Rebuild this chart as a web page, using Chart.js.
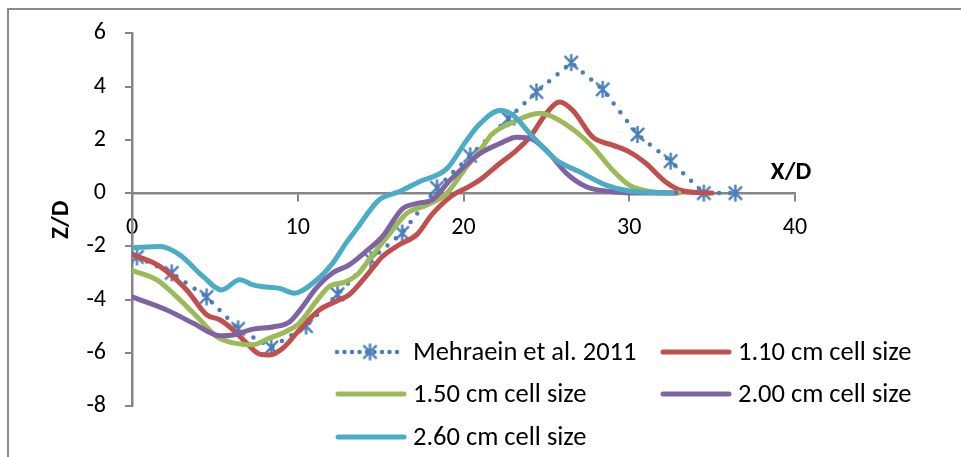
<!DOCTYPE html>
<html>
<head>
<meta charset="utf-8">
<title>Scour profile Z/D vs X/D</title>
<script src="https://cdn.jsdelivr.net/npm/chart.js@4.4.1/dist/chart.umd.min.js"></script>
<style>
  html, body { margin: 0; padding: 0; background: #fff; }
  #wrap { position: relative; width: 961px; height: 457px; overflow: hidden; }
  #frame { position: absolute; left: 7px; top: 8px; width: 1000px; height: 500px; border: 2px solid #8a8a8a; box-sizing: border-box; }
  #profileChart { position: absolute; left: 0; top: 0; }
</style>
</head>
<body>
<div id="wrap">
  <div id="frame"></div>
  <canvas id="profileChart" width="961" height="457"></canvas>
</div>
<script>
// measured bed profile (Mehraein et al. 2011)
const mehraeinX = [0.3, 2.4, 4.5, 6.4, 8.4, 10.5, 12.4, 14.4, 16.3, 18.4, 20.4, 22.7, 24.4, 26.5, 28.4, 30.5, 32.5, 34.5, 36.4];
const mehraeinZ = [-2.4, -3.0, -3.9, -5.1, -5.8, -5.0, -3.8, -2.5, -1.5, 0.2, 1.4, 2.8, 3.8, 4.9, 3.9, 2.2, 1.2, 0, 0];

// simulated profiles, one pair per mesh size
const cell110X = [0, 1.7, 3.3, 4.5, 5.3, 6.1, 6.9, 7.7, 8.3, 9.1, 10.1, 11.3, 12.3, 13.1, 14.1, 15.1, 16.1, 17.2, 18.1, 19.3, 20.2, 21.0, 22.2, 23.0, 24.0, 25.0, 25.8, 26.6, 27.8, 29.0, 30.0, 31.0, 32.2, 33.2, 35.0];
const cell110Z = [-2.3, -2.76, -3.64, -4.57, -4.76, -5.14, -5.63, -6.05, -6.08, -5.83, -5.14, -4.39, -4.07, -3.82, -3.14, -2.39, -1.95, -1.55, -0.8, -0.1, 0.2, 0.5, 1.12, 1.5, 2.1, 3.0, 3.42, 3.1, 2.1, 1.8, 1.55, 1.12, 0.42, 0.09, 0];

const cell150X = [0, 1.5, 2.7, 4.1, 5.1, 6.1, 7.3, 8.1, 9.3, 10.1, 11.1, 11.9, 12.9, 13.7, 14.3, 15.4, 16.6, 17.8, 19.0, 20.2, 21.0, 21.7, 23.0, 24.6, 25.4, 26.8, 27.8, 29.0, 30.0, 31.4, 33.0];
const cell150Z = [-2.9, -3.26, -3.9, -4.76, -5.39, -5.63, -5.7, -5.5, -5.2, -4.89, -4.08, -3.51, -3.33, -3.0, -2.5, -1.64, -0.75, -0.45, 0, 1.0, 1.6, 2.2, 2.67, 3.0, 2.86, 2.3, 1.73, 0.86, 0.3, 0.05, 0];

const cell200X = [0, 2.1, 3.7, 5.3, 6.1, 7.3, 8.5, 9.5, 10.3, 11.1, 12.1, 13.1, 14.1, 15.1, 16.3, 17.2, 18.1, 19.2, 21.0, 22.2, 23.2, 24.0, 25.0, 26.2, 27.4, 29.0, 30.7, 32.8];
const cell200Z = [-3.9, -4.39, -4.89, -5.36, -5.33, -5.11, -5.03, -4.84, -4.26, -3.58, -3.0, -2.7, -2.2, -1.64, -0.6, -0.39, -0.26, 0.49, 1.49, 1.86, 2.1, 2.06, 1.61, 0.75, 0.24, 0.05, 0, 0];

const cell260X = [0, 1.7, 2.9, 4.3, 5.4, 6.5, 7.3, 8.1, 8.9, 9.8, 10.9, 12.1, 12.9, 13.5, 14.9, 16.1, 17.3, 19.0, 20.2, 21.0, 22.2, 23.0, 24.0, 25.6, 27.0, 28.6, 30.0, 32.6];
const cell260Z = [-2.06, -2.01, -2.33, -3.14, -3.64, -3.26, -3.45, -3.53, -3.58, -3.76, -3.39, -2.64, -1.89, -1.39, -0.26, 0.05, 0.42, 0.92, 1.99, 2.61, 3.1, 2.92, 2.24, 1.24, 0.8, 0.3, 0.08, 0];

const seriesLabels = ["Mehraein et al. 2011", "1.10 cm cell size", "1.50 cm cell size", "2.00 cm cell size", "2.60 cm cell size"];
const xTicks = [0, 10, 20, 30, 40];
const yTicks = [-8, -6, -4, -2, 0, 2, 4, 6];

const FONT = "Carlito, Lato, sans-serif";
const AXIS_GREY = "#868686";

function toPoints(xs, zs) {
  return xs.map((x, i) => ({ x, y: zs[i] }));
}

// six-armed star marker, like the office "star" marker
function makeAsterisk(color, size) {
  const c = document.createElement("canvas");
  c.width = size;
  c.height = size;
  const g = c.getContext("2d");
  const m = size / 2;
  const r = size / 2 - 1;
  const d = r * 0.78;
  g.strokeStyle = color;
  g.lineWidth = 2.4;
  g.beginPath();
  g.moveTo(m, m - r);
  g.lineTo(m, m + r);
  g.moveTo(m - d, m - d);
  g.lineTo(m + d, m + d);
  g.moveTo(m + d, m - d);
  g.lineTo(m - d, m + d);
  g.stroke();
  return c;
}

const starMarker = makeAsterisk("#4a7ebb", 19);

function smoothLine(label, xs, zs, color, order) {
  return {
    label,
    data: toPoints(xs, zs),
    borderColor: color,
    backgroundColor: color,
    borderWidth: 5,
    borderCapStyle: "round",
    borderJoinStyle: "round",
    cubicInterpolationMode: "monotone",
    pointRadius: 0,
    fill: false,
    order,
  };
}

// legend sits inside the plot, two columns
const legendSlots = [[335, 352], [660, 352], [335, 394], [660, 394], [335, 437]];

const cornerLegend = {
  id: "cornerLegend",
  afterDraw(chart) {
    const ctx = chart.ctx;
    chart.data.datasets.forEach((ds, i) => {
      const [x, y] = legendSlots[i];
      ctx.save();
      ctx.strokeStyle = ds.borderColor;
      ctx.lineCap = "round";
      if (ds.borderDash) {
        ctx.lineWidth = 4.5;
        ctx.setLineDash([0, 7.5]);
        ctx.beginPath();
        ctx.moveTo(x + 2, y);
        ctx.lineTo(x + 66, y);
        ctx.stroke();
        ctx.setLineDash([]);
        ctx.drawImage(starMarker, x + 35 - starMarker.width / 2, y - starMarker.height / 2);
      } else {
        ctx.lineWidth = 5;
        ctx.beginPath();
        ctx.moveTo(x + 3, y);
        ctx.lineTo(x + 69, y);
        ctx.stroke();
      }
      ctx.fillStyle = "#000";
      ctx.font = "26.5px " + FONT;
      ctx.textBaseline = "middle";
      ctx.textAlign = "left";
      ctx.fillText(ds.label, x + 78, y + 1);
      ctx.restore();
    });
  },
};

const axisTitles = {
  id: "axisTitles",
  afterDraw(chart) {
    const ctx = chart.ctx;
    const xs = chart.scales.x;
    const ys = chart.scales.y;
    ctx.save();
    ctx.fillStyle = "#000";
    ctx.font = "bold 25px " + FONT;
    ctx.textAlign = "center";
    ctx.textBaseline = "middle";
    ctx.fillText("X/D", xs.getPixelForValue(40) - 4, ys.getPixelForValue(0) - 20);
    ctx.translate(62, ys.getPixelForValue(-1));
    ctx.rotate(-Math.PI / 2);
    ctx.fillText("Z/D", 0, 0);
    ctx.restore();
  },
};

new Chart(document.getElementById("profileChart"), {
  type: "line",
  data: {
    datasets: [
      {
        label: seriesLabels[0],
        data: toPoints(mehraeinX, mehraeinZ),
        borderColor: "#4a7ebb",
        backgroundColor: "#4a7ebb",
        borderWidth: 4.5,
        borderDash: [0, 11],
        borderCapStyle: "round",
        tension: 0,
        pointStyle: starMarker,
        pointRadius: 9,
        fill: false,
        order: 5,
      },
      smoothLine(seriesLabels[1], cell110X, cell110Z, "#c0504d", 4),
      smoothLine(seriesLabels[2], cell150X, cell150Z, "#9bbb59", 3),
      smoothLine(seriesLabels[3], cell200X, cell200Z, "#8064a2", 2),
      smoothLine(seriesLabels[4], cell260X, cell260Z, "#4bacc6", 1),
    ],
  },
  options: {
    responsive: false,
    animation: false,
    layout: { padding: { left: 62, top: 33, right: 166, bottom: 51 } },
    plugins: {
      legend: { display: false },
      tooltip: { enabled: false },
    },
    scales: {
      x: {
        type: "linear",
        position: { y: 0 },
        min: 0,
        max: 40,
        afterBuildTicks: (scale) => { scale.ticks = xTicks.map((v) => ({ value: v })); },
        ticks: { color: "#000", font: { family: FONT, size: 24 }, padding: 14, maxRotation: 0 },
        grid: { drawOnChartArea: false, drawTicks: true, tickLength: 7, color: AXIS_GREY, lineWidth: 2 },
        border: { color: AXIS_GREY, width: 2.5 },
      },
      y: {
        type: "linear",
        min: -8,
        max: 6,
        afterBuildTicks: (scale) => { scale.ticks = yTicks.map((v) => ({ value: v })); },
        afterFit: (scale) => { scale.width = 70; },
        ticks: { color: "#000", font: { family: FONT, size: 24 }, padding: 19 },
        grid: { drawOnChartArea: false, drawTicks: true, tickLength: 7, color: AXIS_GREY, lineWidth: 2 },
        border: { color: AXIS_GREY, width: 2.5 },
      },
    },
  },
  plugins: [cornerLegend, axisTitles],
});
</script>
</body>
</html>
